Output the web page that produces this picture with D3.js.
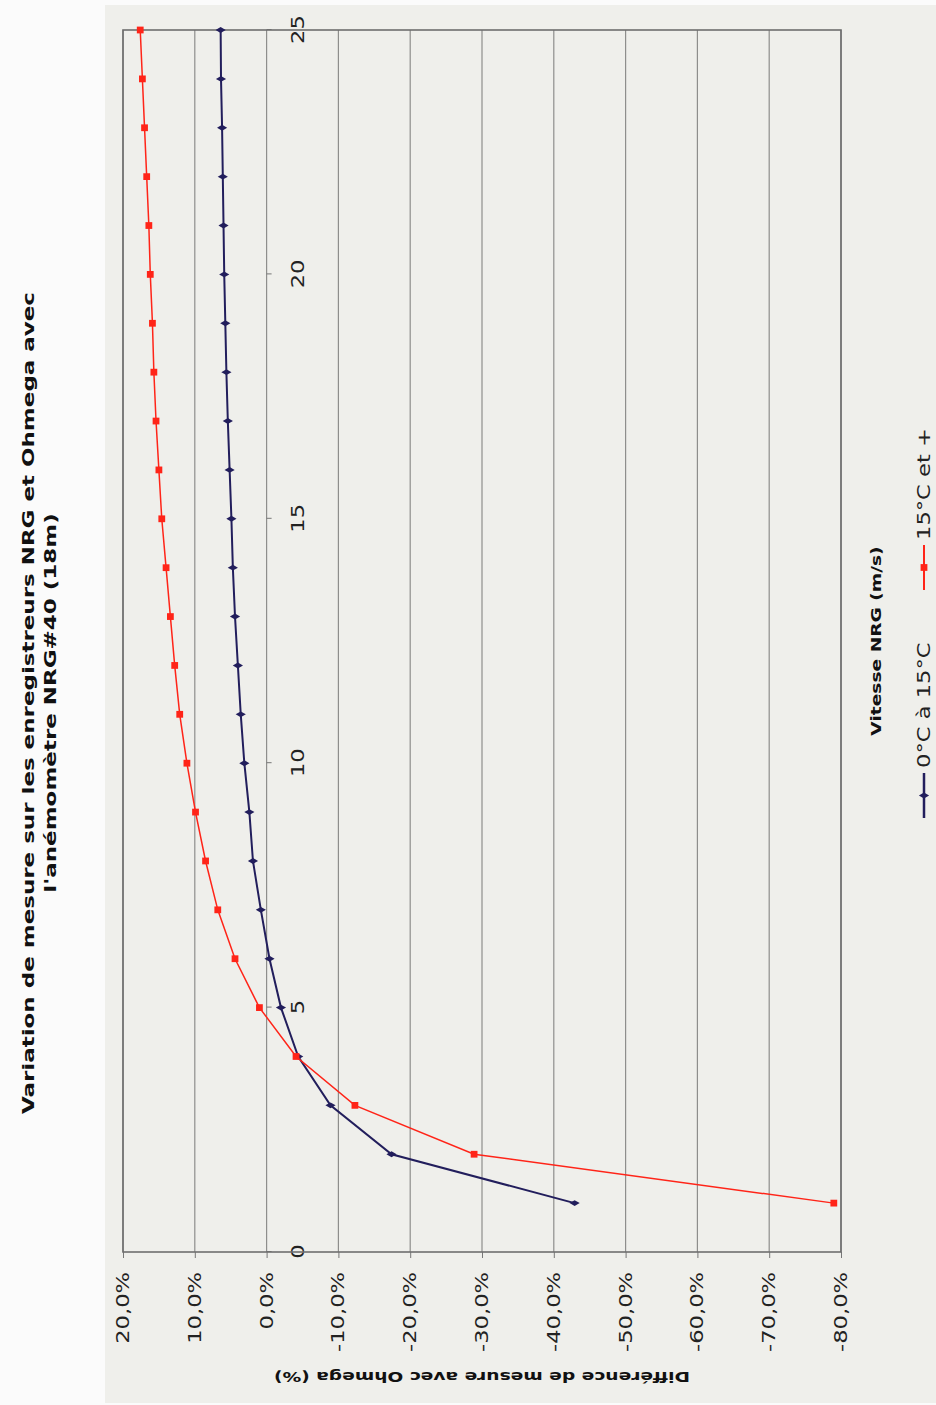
<!DOCTYPE html>
<html><head><meta charset="utf-8">
<script src="https://cdn.jsdelivr.net/npm/d3@7"></script>
<style>body{margin:0;background:#fbfbfb}svg{display:block}</style>
</head><body>
<script>
// ---- data ----
const speeds = [1,2,3,4,5,6,7,8,9,10,11,12,13,14,15,16,17,18,19,20,21,22,23,24,25];
const serie1 = [-42.9,-17.4,-8.9,-4.4,-2.0,-0.4,0.8,1.9,2.4,3.1,3.6,4.0,4.4,4.7,4.9,5.15,5.4,5.6,5.75,5.9,6.0,6.1,6.2,6.35,6.4];
const serie2 = [-79.0,-28.9,-12.3,-4.1,1.0,4.4,6.8,8.5,9.9,11.1,12.1,12.8,13.4,14.0,14.6,15.0,15.4,15.7,15.9,16.2,16.4,16.7,17.0,17.3,17.6];
const seriesNames = ["0°C à 15°C", "15°C et +"];
const xTicks = [0,5,10,15,20,25];
const yTicks = [20,10,0,-10,-20,-30,-40,-50,-60,-70,-80];
const titleLines = ["Variation de mesure sur les enregistreurs NRG et Ohmega avec", "l'anémomètre NRG#40 (18m)"];
const xTitle = "Vitesse NRG (m/s)";
const yTitle = "Différence de mesure avec Ohmega (%)";

// ---- drawing ----
const W = 936, H = 1405;
const FONT = "'DejaVu Sans', Verdana, sans-serif";
const S = 1.33; // horizontal stretch of the original picture's text
const locale = d3.formatLocale({decimal: ",", thousands: " ", grouping: [3], currency: ["", "€"], minus: "-"});
const fmt = v => locale.format(".1f")(v) + "%";

const svg = d3.select("body").append("svg").attr("width", W).attr("height", H);
svg.append("rect").attr("width", W).attr("height", H).attr("fill", "#fbfbfb");
// chart drawn in its original landscape frame, turned a quarter to the left
const g = svg.append("g").attr("transform", `translate(0,${H}) rotate(-90)`);
g.append("rect").attr("x", 2).attr("y", 105).attr("width", 1398).attr("height", 831).attr("fill", "#efefeb");

const x = d3.scaleLinear().domain([0, 25]).range([153, 1375]);
const y = d3.scaleLinear().domain([-80, 20]).range([841, 123]);

function stretch(sel, k) {
  sel.each(function () {
    const L = this.getComputedTextLength();
    d3.select(this).attr("textLength", L * k).attr("lengthAdjust", "spacingAndGlyphs");
  });
}

// gridlines
g.append("g").selectAll("line").data(yTicks).join("line")
  .attr("x1", x(0)).attr("x2", x(25)).attr("y1", d => y(d)).attr("y2", d => y(d))
  .attr("stroke", "#8e8e8c").attr("stroke-width", 1.2);

// y axis (values)
const ya = g.append("g").attr("transform", `translate(${x(0)},0)`)
  .call(d3.axisLeft(y).tickValues(yTicks).tickFormat(fmt).tickSize(6).tickPadding(14));
ya.select(".domain").remove();
ya.selectAll("line").attr("stroke", "#777");
ya.selectAll("text").attr("font-family", FONT).attr("font-size", 17).attr("fill", "#222").call(stretch, S);

// x axis (speed) at 0 %
const xa = g.append("g").attr("transform", `translate(0,${y(0)})`)
  .call(d3.axisBottom(x).tickValues(xTicks).tickFormat(d3.format("d")).tickSize(5).tickPadding(20));
xa.select(".domain").remove();
xa.selectAll("line").attr("stroke", "#777");
xa.selectAll("text").attr("font-family", FONT).attr("font-size", 17).attr("fill", "#222").call(stretch, S);

// plot border
g.append("rect").attr("x", x(0)).attr("y", y(20)).attr("width", x(25) - x(0)).attr("height", y(-80) - y(20))
  .attr("fill", "none").attr("stroke", "#6e6e6e").attr("stroke-width", 1.6);

// series
const styles = [
  {color: "#221e5c", width: 2, symbol: d3.symbolDiamond, size: 30},
  {color: "#ff2418", width: 1.5, symbol: d3.symbolSquare, size: 46}
];
const allSeries = [serie1, serie2];
const line = d3.line().x(d => x(d[0])).y(d => y(d[1]));
allSeries.forEach((vals, i) => {
  const pts = speeds.map((s, j) => [s, vals[j]]);
  const st = styles[i];
  g.append("path").datum(pts).attr("d", line).attr("fill", "none")
    .attr("stroke", st.color).attr("stroke-width", st.width);
  g.append("g").selectAll("path").data(pts).join("path")
    .attr("transform", d => `translate(${x(d[0])},${y(d[1])})`)
    .attr("d", d3.symbol().type(st.symbol).size(st.size)).attr("fill", st.color);
});

// title
const t = g.append("g").attr("font-family", FONT).attr("font-weight", "bold").attr("font-size", 16).attr("fill", "#111");
const tl = t.selectAll("text").data(titleLines).join("text")
  .attr("x", 702).attr("y", (d, i) => 34 + i * 22).attr("text-anchor", "middle").text(d => d);
const L1 = tl.nodes()[0].getComputedTextLength();
tl.call(stretch, 822 / L1);

// axis titles
g.append("text").attr("font-family", FONT).attr("font-weight", "bold").attr("font-size", 14).attr("fill", "#111")
  .attr("x", 764).attr("y", 881).attr("text-anchor", "middle").text(xTitle).call(stretch, S);
g.append("text").attr("font-family", FONT).attr("font-weight", "bold").attr("font-size", 14).attr("fill", "#111")
  .attr("transform", `translate(33,${(y(20) + y(-80)) / 2}) rotate(-90)`).attr("text-anchor", "middle")
  .text(yTitle).call(stretch, S);

// legend
const lg = g.append("g").attr("transform", "translate(587,924)");
let cx = 0;
seriesNames.forEach((name, i) => {
  const st = styles[i];
  const it = lg.append("g").attr("transform", `translate(${cx},0)`);
  it.append("line").attr("x1", 0).attr("x2", 45).attr("stroke", st.color).attr("stroke-width", st.width + 0.5);
  it.append("path").attr("transform", "translate(22.5,0)").attr("d", d3.symbol().type(st.symbol).size(st.size)).attr("fill", st.color);
  const tx = it.append("text").attr("x", 50).attr("y", 6).attr("font-family", FONT).attr("font-size", 17).attr("fill", "#222").text(name);
  tx.call(stretch, S);
  cx += 50 + tx.node().getComputedTextLength() * S + 11;
});
</script>
</body></html>
